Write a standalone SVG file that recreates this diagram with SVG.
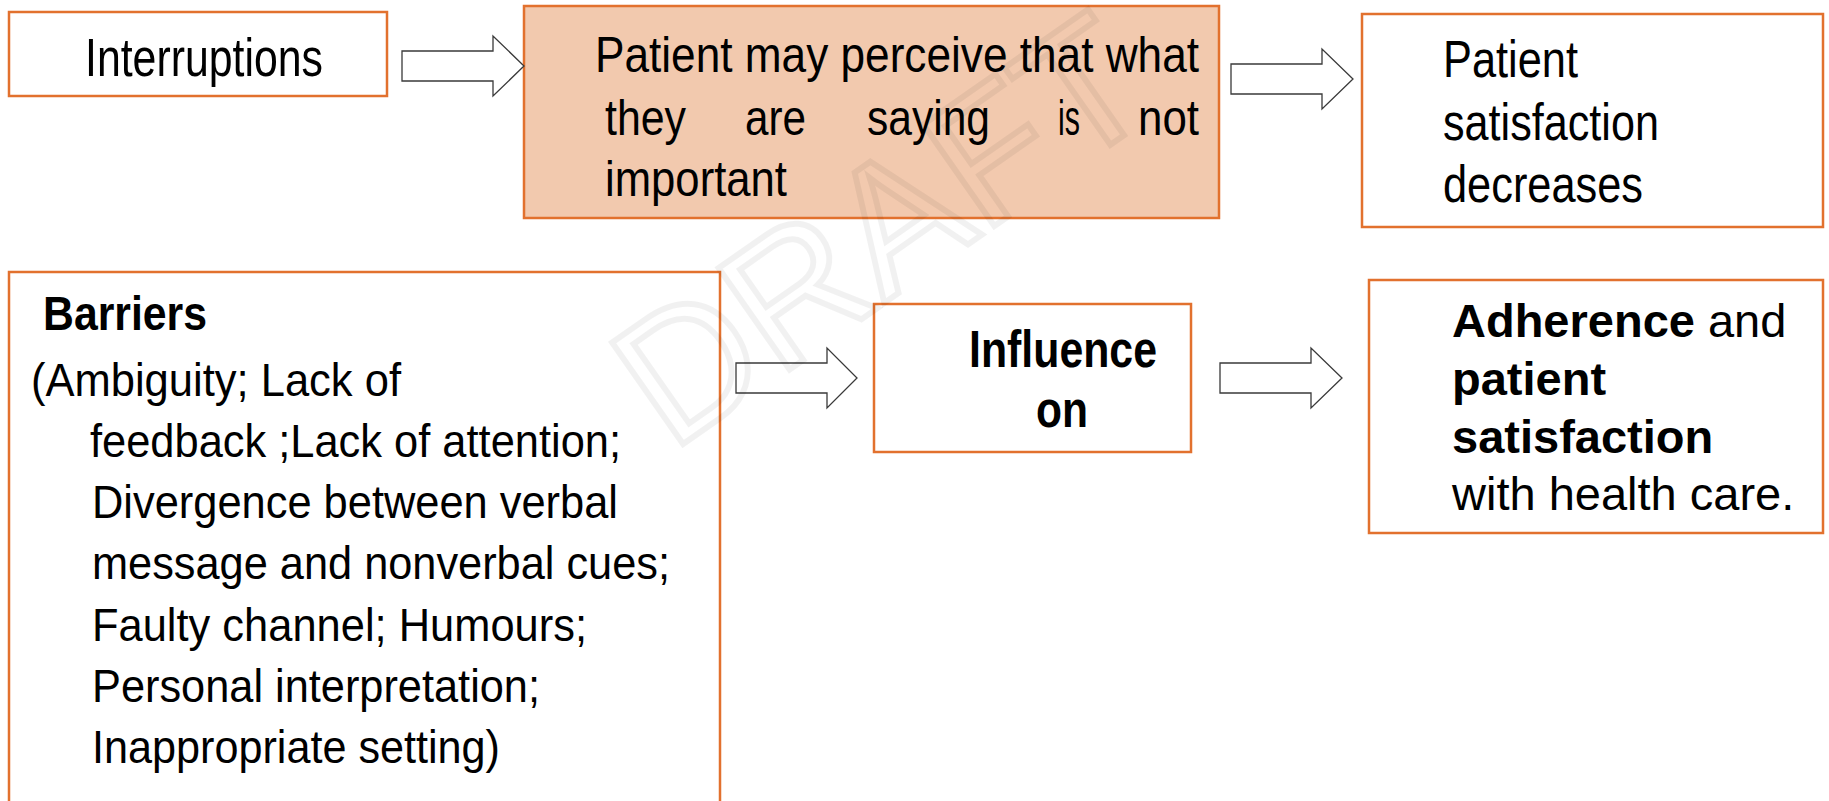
<svg xmlns="http://www.w3.org/2000/svg" width="1829" height="801" viewBox="0 0 1829 801">
<style>
.box{fill:#ffffff;stroke:#E2712E;stroke-width:2.5}
.fill{fill:#F2C9AE}
.n{font-family:"Liberation Sans Narrow","Liberation Sans",Arial,sans-serif;fill:#000}
.a{font-family:"Liberation Sans",Arial,sans-serif;fill:#000;font-size:47px}
.arrow{fill:#ffffff;stroke:#3a3a3a;stroke-width:1.3;stroke-linejoin:miter}
.wm{font-family:"Liberation Sans",Arial,sans-serif;font-size:180px;fill:none;stroke:#000;stroke-opacity:0.055;stroke-width:6}
</style>
<rect width="1829" height="801" fill="#ffffff"/>
<g id="node-interruptions">
<rect class="box" x="9" y="12" width="378" height="84"/>
<text class="n" x="85" y="76" font-size="54" textLength="238" lengthAdjust="spacingAndGlyphs">Interruptions</text>
</g>
<g id="node-perceive">
<rect class="box fill" x="524" y="6" width="695" height="212"/>
<text class="n" x="595" y="72" font-size="50" textLength="604" lengthAdjust="spacingAndGlyphs">Patient may perceive that what</text>
<text class="n" font-size="50" y="135"><tspan x="605" textLength="81" lengthAdjust="spacingAndGlyphs">they</tspan><tspan x="745" textLength="61" lengthAdjust="spacingAndGlyphs">are</tspan><tspan x="867" textLength="123" lengthAdjust="spacingAndGlyphs">saying</tspan><tspan x="1058" textLength="22" lengthAdjust="spacingAndGlyphs">is</tspan><tspan x="1138" textLength="61" lengthAdjust="spacingAndGlyphs">not</tspan></text>
<text class="n" x="605" y="196" font-size="50" textLength="182" lengthAdjust="spacingAndGlyphs">important</text>
</g>
<g id="node-satisfaction-decreases">
<rect class="box" x="1362" y="14" width="461" height="213"/>
<text class="n" x="1443" y="77" font-size="52" textLength="135" lengthAdjust="spacingAndGlyphs">Patient</text>
<text class="n" x="1443" y="140" font-size="52" textLength="216" lengthAdjust="spacingAndGlyphs">satisfaction</text>
<text class="n" x="1443" y="202" font-size="52" textLength="200" lengthAdjust="spacingAndGlyphs">decreases</text>
</g>
<g id="node-barriers">
<rect class="box" x="9" y="272" width="711" height="560"/>
<text class="n" x="43" y="330" font-size="48" font-weight="bold" textLength="164" lengthAdjust="spacingAndGlyphs">Barriers</text>
<text class="n" font-size="47">
<tspan x="31" y="396" textLength="370" lengthAdjust="spacingAndGlyphs">(Ambiguity; Lack of</tspan>
<tspan x="90" y="457" textLength="531" lengthAdjust="spacingAndGlyphs">feedback ;Lack of attention;</tspan>
<tspan x="92" y="518" textLength="526" lengthAdjust="spacingAndGlyphs">Divergence between verbal</tspan>
<tspan x="92" y="579" textLength="578" lengthAdjust="spacingAndGlyphs">message and nonverbal cues;</tspan>
<tspan x="92" y="641" textLength="495" lengthAdjust="spacingAndGlyphs">Faulty channel; Humours;</tspan>
<tspan x="92" y="702" textLength="448" lengthAdjust="spacingAndGlyphs">Personal interpretation;</tspan>
<tspan x="92" y="763" textLength="408" lengthAdjust="spacingAndGlyphs">Inappropriate setting)</tspan>
</text>
</g>
<g id="node-influence">
<rect class="box" x="874" y="304" width="317" height="148"/>
<text class="n" x="969" y="367" font-size="52" font-weight="bold" textLength="188" lengthAdjust="spacingAndGlyphs">Influence</text>
<text class="n" x="1036" y="427" font-size="52" font-weight="bold" textLength="52" lengthAdjust="spacingAndGlyphs">on</text>
</g>
<g id="node-adherence">
<rect class="box" x="1369" y="280" width="454" height="253"/>
<text class="a" x="1452" y="337"><tspan font-weight="bold">Adherence</tspan> and</text>
<text class="a" x="1452" y="395" font-weight="bold">patient</text>
<text class="a" x="1452" y="453" font-weight="bold">satisfaction</text>
<text class="a" x="1452" y="510">with health care.</text>
</g>
<g id="connectors">
<polygon class="arrow" points="402,51 493,51 493,36 524,66 493,96 493,81 402,81"/>
<polygon class="arrow" points="1231,64 1322,64 1322,49 1353,79 1322,109 1322,94 1231,94"/>
<polygon class="arrow" points="736,363 827,363 827,348 857,378 827,408 827,393 736,393"/>
<polygon class="arrow" points="1220,363 1311,363 1311,348 1342,378 1311,408 1311,393 1220,393"/>
</g>
<text class="wm" transform="translate(880,228) rotate(-35)" text-anchor="middle" y="64">DRAFT</text>
</svg>
